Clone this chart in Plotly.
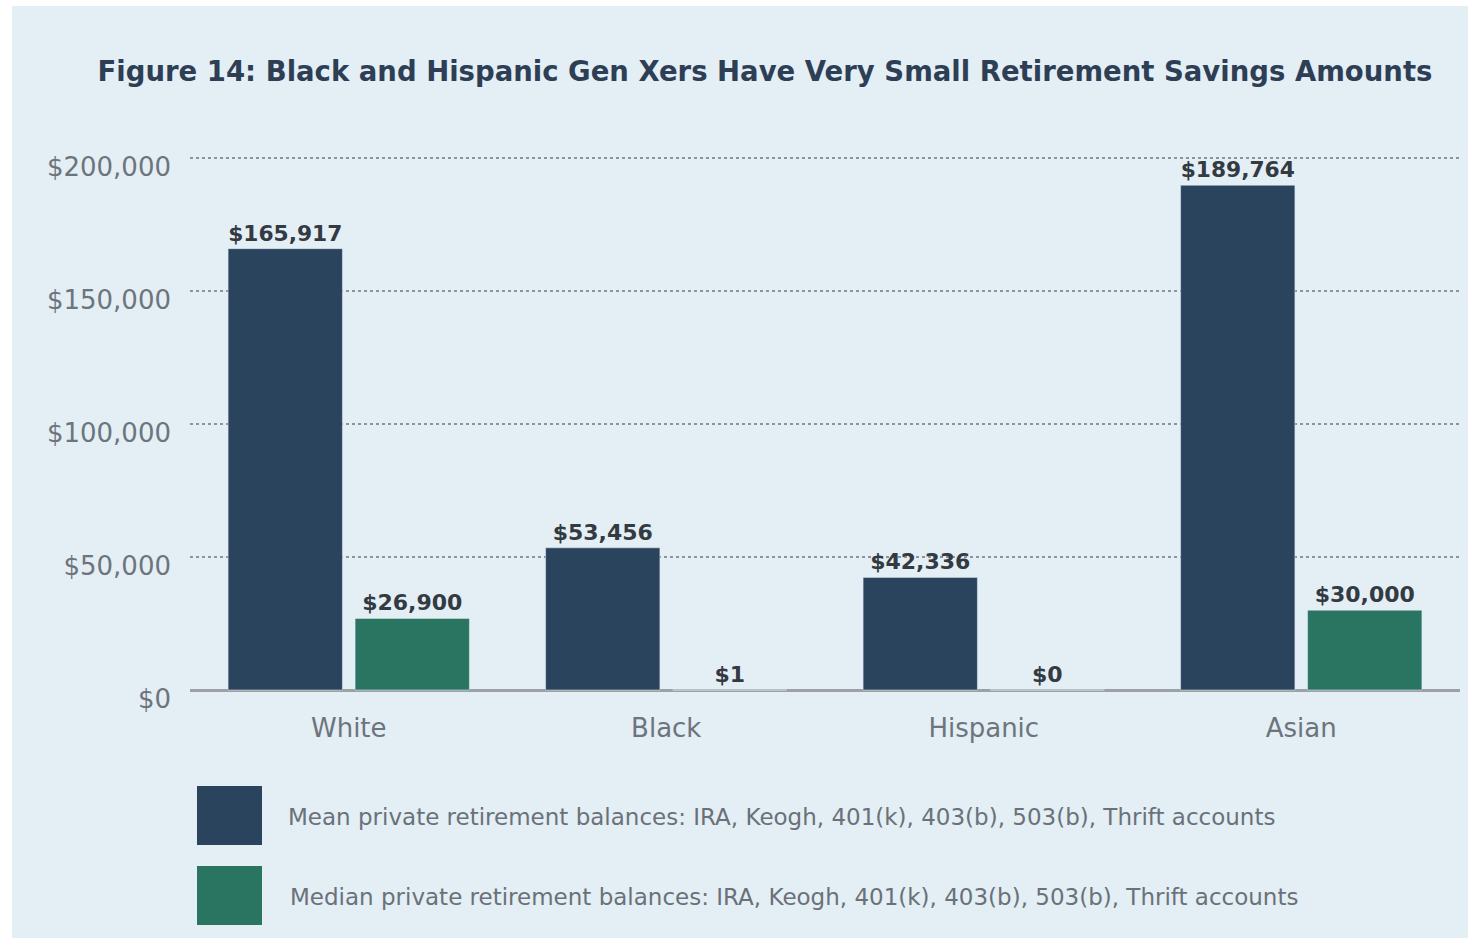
import plotly.graph_objects as go

categories = ["White", "Black", "Hispanic", "Asian"]
mean_values = [165917, 53456, 42336, 189764]
median_values = [26900, 1, 0, 30000]
mean_name = "Mean private retirement balances: IRA, Keogh, 401(k), 403(b), 503(b), Thrift accounts"
median_name = "Median private retirement balances: IRA, Keogh, 401(k), 403(b), 503(b), Thrift accounts"
tick_vals = [0, 50000, 100000, 150000, 200000]
tick_text = ["$0", "$50,000", "$100,000", "$150,000", "$200,000"]
title_text = "Figure 14: Black and Hispanic Gen Xers Have Very Small Retirement Savings Amounts"

NAVY = "#2b445e"
GREEN = "#2a7562"
BG = "#e3eef5"

W, H = 1468, 938
S = 532 / 200000            # pixels per dollar
ZERO_Y = 690                # pixel row of the baseline
PAD_BOTTOM = 16             # extra plot area below the baseline (px)
Y_MAX = 201500
Y_MIN = -PAD_BOTTOM / S
L, R = 190, 8
B = H - ZERO_Y - PAD_BOTTOM
ph = round(S * (Y_MAX - Y_MIN))
T = H - B - ph
pw = W - L - R
LABEL_DROP = 9 / S          # tick labels sit ~9px below their gridlines

def px(x):
    return (x - L) / pw

def py(y):
    return (H - B - y) / ph

fig = go.Figure()
for vals, name, color in [(mean_values, mean_name, NAVY), (median_values, median_name, GREEN)]:
    fig.add_trace(go.Bar(
        x=categories, y=vals, name=name, marker_color=color,
        text=[f"${v:,}" for v in vals], textposition="outside",
        textfont=dict(family="DejaVu Sans", size=22, color="#333a42", weight="bold"),
        cliponaxis=False,
    ))
# invisible helper so the label axis is drawn
fig.add_trace(go.Scatter(x=categories, y=mean_values, yaxis="y2", mode="markers",
                         marker=dict(opacity=0), hoverinfo="skip", showlegend=False))

# background panel (light blue with thin white border at left/top)
fig.add_shape(type="rect", xref="paper", yref="paper",
              x0=px(12), x1=px(W), y0=py(6), y1=py(H),
              fillcolor=BG, line_width=0, layer="below")

# custom legend
for i, (name, color) in enumerate([(mean_name, NAVY), (median_name, GREEN)]):
    y0 = 786 + i * 80
    fig.add_shape(type="rect", xref="paper", yref="paper",
                  x0=px(197), x1=px(262), y0=py(y0), y1=py(y0 + 59),
                  fillcolor=color, line_width=0)
    fig.add_annotation(xref="paper", yref="paper", x=px(286 + i * 2), y=py(y0 + 31),
                       text=name, showarrow=False, xanchor="left", yanchor="middle",
                       font=dict(family="DejaVu Sans", size=23, color="#6a7179"))

fig.update_layout(
    width=W, height=H,
    margin=dict(l=L, r=R, t=T, b=B),
    paper_bgcolor="white", plot_bgcolor=BG,
    barmode="group", bargap=0.2, bargroupgap=0.1,
    showlegend=False,
    title=dict(text=title_text, x=765 / W, xanchor="center", y=1 - 71 / H, yanchor="middle",
               font=dict(family="DejaVu Sans", size=27.5, color="#2d3e55", weight="bold")),
    xaxis=dict(tickfont=dict(family="DejaVu Sans", size=26, color="#6d747c"),
               showline=False, ticks="", showgrid=False, ticklabelstandoff=20 - PAD_BOTTOM),
    yaxis=dict(range=[Y_MIN, Y_MAX], tickvals=tick_vals, showticklabels=False,
               showgrid=True, gridcolor="#8c939b", griddash="dot", gridwidth=1.5,
               zeroline=True, zerolinecolor="#9ba1a7", zerolinewidth=2.5,
               ticks="", showline=False),
    yaxis2=dict(overlaying="y", side="left", anchor="x",
                range=[Y_MIN + LABEL_DROP, Y_MAX + LABEL_DROP], tickvals=tick_vals, ticktext=tick_text,
                tickfont=dict(family="DejaVu Sans", size=26, color="#6d747c"),
                showgrid=False, zeroline=False, ticks="", ticklabelstandoff=18, showline=False),
)

fig.write_html("out.html")
